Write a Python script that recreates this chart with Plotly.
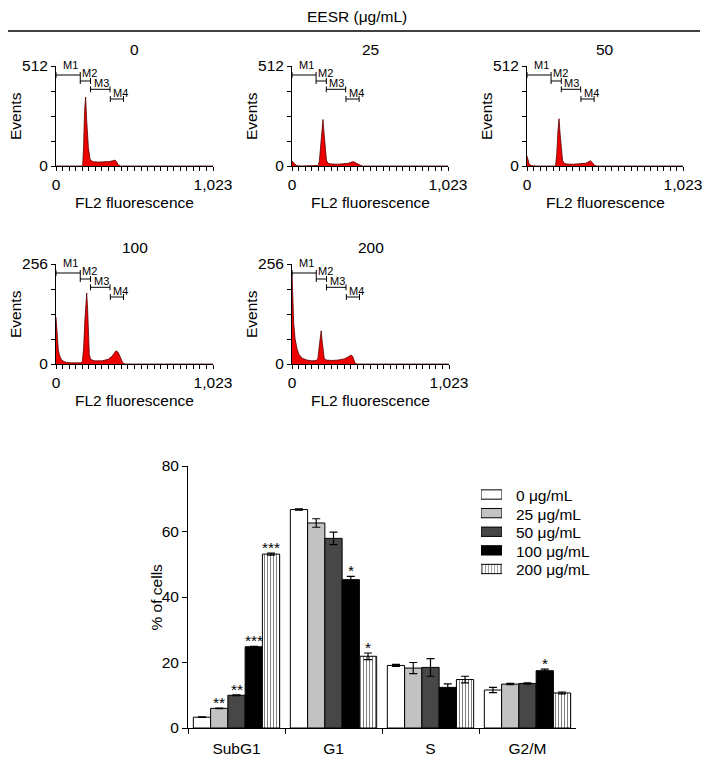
import plotly.graph_objects as go

# The page body has an 8 px margin, so the figure is laid out 8 px smaller and
# every reference pixel position is shifted by that offset.
OFF = 8
W, H = 714 - OFF, 760 - OFF
FONT = "Liberation Sans, Arial, sans-serif"

# ---------------- Data ----------------
figure_title = "EESR (μg/mL)"
panel_titles = ["0", "25", "50", "100", "200"]
panel_ymax = [512, 512, 512, 256, 256]
x_tick_labels = ["0", "1,023"]
channel_max = 1023

hist_0_ch = [0, 100, 168, 174, 180, 186, 193, 200, 211, 222, 240, 280, 320, 350, 370, 385, 395, 404, 420, 1023]
hist_0_ct = [0, 0, 0, 5, 100, 280, 353, 233, 95, 34, 22, 20, 21, 23, 27, 30, 22, 8, 0, 0]

hist_25_ch = [0, 8, 18, 29, 60, 168, 174, 180, 190, 197, 203, 210, 218, 226, 235, 260, 300, 340, 370, 390, 403, 420, 447, 460, 1023]
hist_25_ct = [25, 18, 8, 2, 0, 0, 3, 30, 120, 205, 238, 170, 70, 30, 14, 10, 9, 10, 14, 20, 22, 15, 2, 0, 0]

hist_50_ch = [0, 6, 14, 22, 29, 60, 180, 188, 195, 203, 210, 217, 225, 233, 241, 260, 300, 350, 385, 405, 416, 430, 444, 460, 1023]
hist_50_ct = [51, 30, 12, 5, 2, 0, 0, 5, 60, 180, 242, 165, 70, 30, 15, 10, 9, 10, 14, 22, 27, 16, 3, 0, 0]

hist_100_ch = [0, 4, 9, 15, 25, 37, 55, 70, 100, 140, 165, 172, 180, 188, 194, 200, 206, 212, 217, 225, 250, 300, 340, 365, 380, 391, 405, 420, 435, 450, 1023]
hist_100_ct = [120, 95, 60, 36, 20, 10, 6, 4, 3, 3, 3, 8, 40, 110, 160, 182, 140, 60, 25, 12, 8, 8, 12, 20, 28, 34, 30, 15, 3, 0, 0]

hist_200_ch = [0, 4, 11, 20, 32, 45, 65, 97, 130, 160, 169, 176, 184, 190, 196, 203, 210, 225, 260, 300, 340, 365, 385, 395, 405, 411, 425, 1023]
hist_200_ct = [235, 160, 105, 65, 40, 25, 15, 10, 8, 9, 15, 40, 72, 85, 60, 25, 14, 10, 9, 10, 13, 18, 23, 20, 10, 2, 0, 0]

marker_names = ["M1", "M2", "M3", "M4"]
marker_start = [0, 158, 225, 354]
marker_end = [158, 225, 352, 440]
marker_level = [0.91, 0.85, 0.767, 0.67]  # fraction of full scale

phases = ["SubG1", "G1", "S", "G2/M"]
dose_labels = ["0 μg/mL", "25 μg/mL", "50 μg/mL", "100 μg/mL", "200 μg/mL"]
pct_0 = [3.3, 66.7, 19.1, 11.6]
pct_25 = [6.0, 62.6, 18.3, 13.4]
pct_50 = [10.0, 57.9, 18.5, 13.6]
pct_100 = [24.8, 45.3, 12.4, 17.5]
pct_200 = [53.1, 21.9, 14.8, 10.7]
err_0 = [0.1, 0.2, 0.3, 0.8]
err_25 = [0.1, 1.3, 1.7, 0.2]
err_50 = [0.1, 1.9, 2.7, 0.2]
err_100 = [0.1, 1.0, 1.1, 0.5]
err_200 = [0.3, 1.0, 1.0, 0.3]
sig_0 = ["", "", "", ""]
sig_25 = ["**", "", "", ""]
sig_50 = ["**", "", "", ""]
sig_100 = ["***", "*", "", "*"]
sig_200 = ["***", "*", "", ""]
bar_y_ticks = [0, 20, 40, 60, 80]

# ---------------- Layout helpers ----------------
def px_x(p):
    return (p - OFF) / W

def px_y(p):
    return 1 - (p - OFF) / H

def xd(l, r):
    return [px_x(l), px_x(r)]

def yd(t, b):
    return [px_y(b), px_y(t)]

hist_boxes = [(56, 213, 66, 166), (292, 448, 66, 166), (527, 683, 66, 166),
              (56, 213, 264, 364), (292, 449, 264, 364)]
bar_box = (188, 576, 466, 728)
legend_box = (481, 502, 485.2, 578.3)

hist_series = [(hist_0_ch, hist_0_ct), (hist_25_ch, hist_25_ct), (hist_50_ch, hist_50_ct),
               (hist_100_ch, hist_100_ct), (hist_200_ch, hist_200_ct)]

fig = go.Figure()
annotations = []
layout_axes = {}

n_xticks = 24
xtickvals = [channel_max * k / n_xticks for k in range(n_xticks + 1)]
xticktext = [x_tick_labels[0]] + [""] * (n_xticks - 1) + [x_tick_labels[1]]

label_dx = [5, 0, 1, 1]
label_dy = [2, 0, -2, -2]

for i, ((ch, ct), box, ymax, title) in enumerate(zip(hist_series, hist_boxes, panel_ymax, panel_titles)):
    k = i + 1
    xa = "x" if k == 1 else f"x{k}"
    ya = "y" if k == 1 else f"y{k}"
    l, r, t, b = box
    fig.add_trace(go.Scatter(x=ch, y=ct, mode="lines", fill="tozeroy",
                             fillcolor="#ee0000", line=dict(color="#5a0000", width=0.8),
                             xaxis=xa, yaxis=ya, showlegend=False, hoverinfo="skip"))
    mx, my = [], []
    d = 0.03 * ymax
    for s, e, lv in zip(marker_start, marker_end, marker_level):
        yv = lv * ymax
        mx += [s, s, None, s, e, None, e, e, None]
        my += [yv - d, yv + d, None, yv, yv, None, yv - d, yv + d, None]
    fig.add_trace(go.Scatter(x=mx, y=my, mode="lines", line=dict(color="black", width=1),
                             xaxis=xa, yaxis=ya, showlegend=False, hoverinfo="skip",
                             cliponaxis=False))
    for j, (nm, s, lv) in enumerate(zip(marker_names, marker_start, marker_level)):
        annotations.append(dict(x=s, y=lv * ymax, xref=xa, yref=ya, text=nm, showarrow=False,
                                xanchor="left", yanchor="bottom", xshift=label_dx[j], yshift=label_dy[j],
                                font=dict(size=11, color="black", family=FONT)))
    ytv = [ymax * q / 4 for q in range(5)]
    ytt = ["0", "", "", "", str(ymax)]
    axis_common = dict(showline=True, linecolor="black", linewidth=1, ticks="outside",
                       ticklen=4, tickcolor="black", tickwidth=1, showgrid=False, zeroline=False,
                       automargin=False,
                       tickfont=dict(size=15.5, color="black", family=FONT))
    layout_axes["xaxis" if k == 1 else f"xaxis{k}"] = dict(
        domain=xd(l, r), anchor=ya, range=[0, channel_max], tickmode="array",
        tickvals=xtickvals, ticktext=xticktext, **axis_common)
    layout_axes["yaxis" if k == 1 else f"yaxis{k}"] = dict(
        domain=yd(t, b), anchor=xa, range=[0, ymax], tickmode="array",
        tickvals=ytv, ticktext=ytt, **axis_common)
    annotations.append(dict(x=0.5, y=1, xref=f"{xa} domain", yref=f"{ya} domain", text=title,
                            showarrow=False, yanchor="middle", yshift=17,
                            font=dict(size=15.5, color="black", family=FONT)))
    annotations.append(dict(x=0.5, y=0, xref=f"{xa} domain", yref=f"{ya} domain",
                            text="FL2 fluorescence", showarrow=False, yanchor="middle", yshift=-36,
                            font=dict(size=15.5, color="black", family=FONT)))
    annotations.append(dict(x=0, y=0.5, xref=f"{xa} domain", yref=f"{ya} domain",
                            text="Events", showarrow=False, textangle=-90, xanchor="center",
                            xshift=-41, font=dict(size=15.5, color="black", family=FONT)))

# ---------------- Bar chart ----------------
pcts = [pct_0, pct_25, pct_50, pct_100, pct_200]
errs = [err_0, err_25, err_50, err_100, err_200]
sigs = [sig_0, sig_25, sig_50, sig_100, sig_200]
fills = ["white", "#c2c2c2", "#474747", "#000000", "white"]
patterns = ["", "", "", "", "|"]
bargap = 0.11
bw = (1 - bargap) / len(pcts)

for j, (lab, vals, er, col, pat) in enumerate(zip(dose_labels, pcts, errs, fills, patterns)):
    marker = dict(color=col, line=dict(color="black", width=1))
    if pat:
        marker["pattern"] = dict(shape=pat, fgcolor="black", bgcolor="white", size=3, solidity=0.35)
    fig.add_trace(go.Bar(x=phases, y=vals, name=lab, marker=marker, showlegend=False,
                         error_y=dict(type="data", array=er, color="black", thickness=1.2, width=4),
                         xaxis="x6", yaxis="y6", hoverinfo="skip"))
    for ci, (v, e, s) in enumerate(zip(vals, er, sigs[j])):
        if s:
            annotations.append(dict(x=ci + (j - 2) * bw, y=v + e, xref="x6", yref="y6", text=s,
                                    showarrow=False, yanchor="bottom", yshift=-5,
                                    font=dict(size=15.5, color="black", family=FONT)))

l, r, t, b = bar_box
layout_axes["xaxis6"] = dict(domain=xd(l, r), anchor="y6", type="category", showline=True,
                             linecolor="black", linewidth=1, ticks="outside", tickson="boundaries",
                             ticklen=5, tickcolor="black", showgrid=False, zeroline=False,
                             range=[-0.5, 3.5], automargin=False, ticklabelstandoff=6,
                             tickfont=dict(size=15.5, color="black", family=FONT))
layout_axes["yaxis6"] = dict(domain=yd(t, b), anchor="x6", range=[0, 80], showline=True,
                             linecolor="black", linewidth=1, ticks="outside", ticklen=5,
                             tickcolor="black", tickvals=bar_y_ticks, showgrid=False, zeroline=False,
                             automargin=False,
                             tickfont=dict(size=15.5, color="black", family=FONT))
annotations.append(dict(x=0, y=0.5, xref="x6 domain", yref="y6 domain", text="% of cells",
                        showarrow=False, textangle=-90, xshift=-43,
                        font=dict(size=15.5, color="black", family=FONT)))

# ---------------- Legend (swatches drawn as bars on a small hidden axis) ----------------
rows = list(range(len(dose_labels)))
fig.add_trace(go.Bar(y=rows, x=[1] * len(rows), orientation="h", width=0.5,
                     marker=dict(color=fills, line=dict(color="black", width=1),
                                 pattern=dict(shape=patterns, fgcolor="black", bgcolor="white",
                                              size=3, solidity=0.35)),
                     xaxis="x7", yaxis="y7", showlegend=False, hoverinfo="skip",
                     cliponaxis=False, offsetgroup="legend"))
ll, lr, lt, lb = legend_box
layout_axes["xaxis7"] = dict(domain=xd(ll, lr), anchor="y7", range=[0, 1], visible=False,
                             automargin=False)
layout_axes["yaxis7"] = dict(domain=yd(lt, lb), anchor="x7", range=[len(rows) - 0.5, -0.5],
                             visible=False, automargin=False)
for rI, lab in zip(rows, dose_labels):
    annotations.append(dict(x=px_x(514), y=rI, xref="paper", yref="y7", text=lab,
                            showarrow=False, xanchor="left", yanchor="middle", yshift=-1,
                            font=dict(size=15.5, color="black", family=FONT)))

annotations.append(dict(x=px_x(357), y=px_y(16.5), xref="paper", yref="paper", text=figure_title,
                        showarrow=False, xanchor="center", yanchor="middle",
                        font=dict(size=15.5, color="black", family=FONT)))

fig.update_layout(
    width=W, height=H, margin=dict(l=0, r=0, t=0, b=0, autoexpand=False),
    paper_bgcolor="white", plot_bgcolor="white",
    font=dict(family=FONT, color="black", size=15.5),
    barmode="group", bargap=bargap, bargroupgap=0,
    showlegend=False,
    annotations=annotations,
    shapes=[dict(type="line", xref="paper", yref="paper", x0=px_x(8), x1=px_x(700),
                 y0=px_y(31), y1=px_y(31), line=dict(color="black", width=1.3))],
    **layout_axes,
)

fig.write_html("out.html")
